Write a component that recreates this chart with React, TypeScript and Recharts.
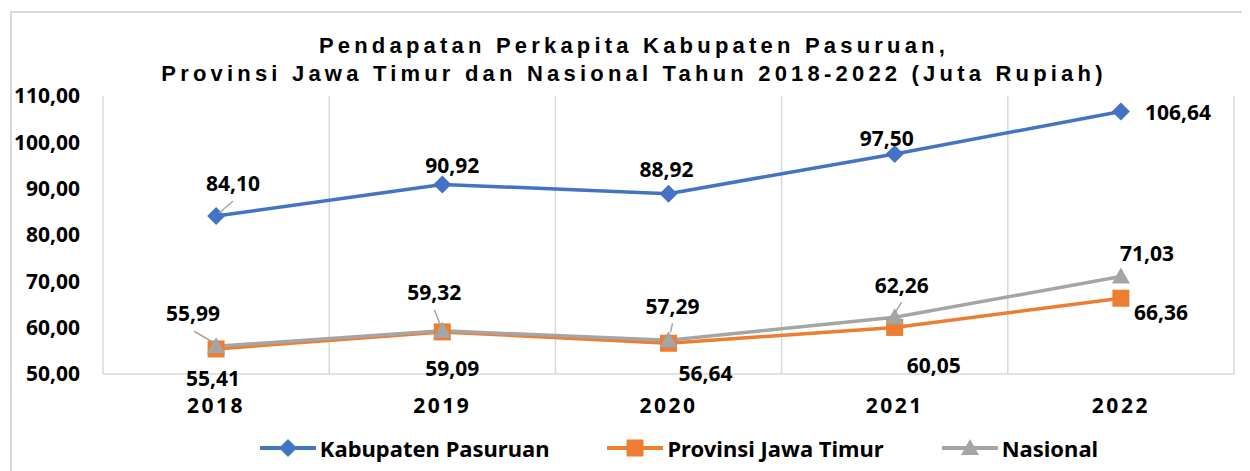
import { LineChart, Line, XAxis, YAxis, CartesianGrid, Legend, LabelList } from 'recharts'

const YEARS = ['2018', '2019', '2020', '2021', '2022']
const KABUPATEN = [84.1, 90.92, 88.92, 97.5, 106.64]
const PROVINSI = [55.41, 59.09, 56.64, 60.05, 66.36]
const NASIONAL = [55.99, 59.32, 57.29, 62.26, 71.03]
const Y_TICKS = [50, 60, 70, 80, 90, 100, 110]
const SERIES_ORDER = ['kab', 'prov', 'nas']

const BLUE = '#4472c4'
const ORANGE = '#ed7d31'
const GRAY = '#a5a5a5'
const GRID = '#d9d9d9'
const FONT = '"Noto Sans", sans-serif'

// label placement relative to the point: dx, dy, optional leader line [x1, y1, x2, y2]
type Place = { dx: number; dy: number; leader?: [number, number, number, number] }
const KAB_PLACE: Place[] = [
  { dx: 17, dy: -33, leader: [17, -15, 3, -3] },
  { dx: 10, dy: -19 },
  { dx: -2, dy: -25 },
  { dx: -8, dy: -16 },
  { dx: 57, dy: 0 },
]
const PROV_PLACE: Place[] = [
  { dx: -3, dy: 29 },
  { dx: 10, dy: 36 },
  { dx: 37, dy: 30 },
  { dx: 39, dy: 38 },
  { dx: 40, dy: 14 },
]
const NAS_PLACE: Place[] = [
  { dx: -23, dy: -33, leader: [-22, -15, -3, -4] },
  { dx: -8, dy: -39, leader: [-8, -21, -2, -6] },
  { dx: 4, dy: -34, leader: [4, -17, 2, -8] },
  { dx: 7, dy: -32, leader: [7, -15, 0, -4] },
  { dx: 26, dy: -24 },
]

const data = YEARS.map((year, i) => ({
  year,
  kab: KABUPATEN[i],
  prov: PROVINSI[i],
  nas: NASIONAL[i],
}))

const fmt = (v: number) => v.toFixed(2).replace('.', ',')

function makeLabel(places: Place[]) {
  return (props: any) => {
    const { x, y, value, index } = props
    const p = places[index]
    if (!p) return null
    return (
      <g>
        {p.leader && (
          <line
            x1={x + p.leader[0]}
            y1={y + p.leader[1]}
            x2={x + p.leader[2]}
            y2={y + p.leader[3]}
            stroke="#a6a6a6"
            strokeWidth={1.5}
          />
        )}
        <text
          x={x + p.dx}
          y={y + p.dy}
          textAnchor="middle"
          dominantBaseline="central"
          fontFamily={FONT}
          fontWeight={700}
          fontSize={21}
          fill="#000"
        >
          {fmt(Number(value))}
        </text>
      </g>
    )
  }
}

function Diamond({ cx, cy, fill }: any) {
  if (cx == null || cy == null) return null
  const r = 9
  return <path d={`M${cx},${cy - r} L${cx + r},${cy} L${cx},${cy + r} L${cx - r},${cy} Z`} fill={fill} />
}

function Square({ cx, cy, fill }: any) {
  if (cx == null || cy == null) return null
  return <rect x={cx - 8.5} y={cy - 8.5} width={17} height={17} fill={fill} />
}

function Triangle({ cx, cy, fill }: any) {
  if (cx == null || cy == null) return null
  return <path d={`M${cx},${cy - 9} L${cx + 9},${cy + 7} L${cx - 9},${cy + 7} Z`} fill={fill} />
}

const SHAPES: Record<string, any> = { kab: Diamond, prov: Square, nas: Triangle }

function LegendContent(props: any) {
  const items = [...(props.payload ?? [])].sort(
    (a: any, b: any) => SERIES_ORDER.indexOf(a.dataKey) - SERIES_ORDER.indexOf(b.dataKey)
  )
  return (
    <div
      style={{
        height: 47,
        display: 'flex',
        alignItems: 'center',
        justifyContent: 'center',
        paddingLeft: 116,
        boxSizing: 'border-box',
      }}
    >
      {items.map((entry: any, i: number) => {
        const Shape = SHAPES[entry.dataKey]
        return (
          <div
            key={entry.value}
            style={{ display: 'flex', alignItems: 'center', marginLeft: i === 0 ? 0 : 58 }}
          >
            <svg width={56} height={20}>
              <line x1={0} y1={10} x2={56} y2={10} stroke={entry.color} strokeWidth={4} />
              {Shape && <Shape cx={28} cy={10} fill={entry.color} />}
            </svg>
            <span
              style={{
                marginLeft: 4,
                fontFamily: FONT,
                fontWeight: 700,
                fontSize: 22,
                color: '#000',
              }}
            >
              {entry.value}
            </span>
          </div>
        )
      })}
    </div>
  )
}

export default function App() {
  return (
    <div style={{ position: 'relative', width: 1242, height: 463, fontFamily: FONT }}>
      <div
        style={{
          position: 'absolute',
          left: 2,
          top: 3,
          width: 1240,
          height: 460,
          borderTop: `2px solid ${GRID}`,
          borderLeft: `2px solid ${GRID}`,
        }}
      />
      <div
        style={{
          position: 'absolute',
          left: 0,
          top: 24,
          width: 1252,
          textAlign: 'center',
          fontFamily: '"Liberation Sans", Arial, sans-serif',
          fontWeight: 700,
          fontSize: 22,
          letterSpacing: 4.2,
          lineHeight: '28px',
          color: '#000',
        }}
      >
        <div>Pendapatan Perkapita Kabupaten Pasuruan,</div>
        <div>Provinsi Jawa Timur dan Nasional Tahun 2018-2022 (Juta Rupiah)</div>
      </div>
      <LineChart
        width={1242}
        height={463}
        data={data}
        margin={{ top: 88, right: 16, left: 0, bottom: 0 }}
      >
        <CartesianGrid
          horizontal={false}
          stroke={GRID}
          strokeWidth={1.5}
          verticalCoordinatesGenerator={({ offset }: any) =>
            YEARS.map((_, i) => offset.left + ((i + 1) * offset.width) / YEARS.length)
          }
        />
        <XAxis
          dataKey="year"
          scale="band"
          height={50}
          axisLine={{ stroke: GRID, strokeWidth: 1.5 }}
          tickLine={false}
          tickSize={0}
          tickMargin={24}
          tick={{ fill: '#000', fontSize: 21, fontWeight: 700, fontFamily: FONT, letterSpacing: 2.5 }}
        />
        <YAxis
          width={95}
          domain={[50, 110]}
          ticks={Y_TICKS}
          tickFormatter={fmt}
          axisLine={{ stroke: GRID, strokeWidth: 1.5 }}
          tickLine={false}
          tickSize={0}
          tickMargin={23}
          tick={{ fill: '#000', fontSize: 21, fontWeight: 700, fontFamily: FONT }}
        />
        <Legend verticalAlign="bottom" content={<LegendContent />} />
        <Line
          dataKey="kab"
          name="Kabupaten Pasuruan"
          stroke={BLUE}
          strokeWidth={3.5}
          dot={<Diamond fill={BLUE} />}
          activeDot={false}
          isAnimationActive={false}
        >
          <LabelList dataKey="kab" content={makeLabel(KAB_PLACE)} />
        </Line>
        <Line
          dataKey="prov"
          name="Provinsi Jawa Timur"
          stroke={ORANGE}
          strokeWidth={3.5}
          dot={<Square fill={ORANGE} />}
          activeDot={false}
          isAnimationActive={false}
        >
          <LabelList dataKey="prov" content={makeLabel(PROV_PLACE)} />
        </Line>
        <Line
          dataKey="nas"
          name="Nasional"
          stroke={GRAY}
          strokeWidth={3.5}
          dot={<Triangle fill={GRAY} />}
          activeDot={false}
          isAnimationActive={false}
        >
          <LabelList dataKey="nas" content={makeLabel(NAS_PLACE)} />
        </Line>
      </LineChart>
    </div>
  )
}
